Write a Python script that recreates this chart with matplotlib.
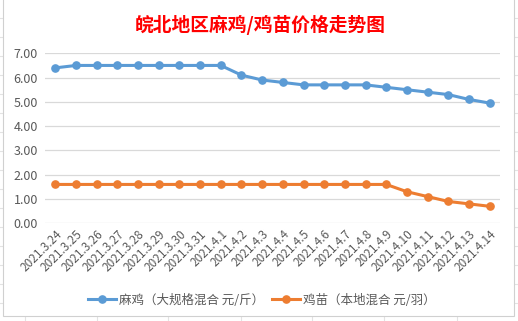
import matplotlib
matplotlib.use("Agg")
import matplotlib.pyplot as plt
from matplotlib.lines import Line2D

plt.rcParams['font.family'] = ['Noto Sans CJK SC', 'DejaVu Sans']

# 数据
dates = ['2021.3.24', '2021.3.25', '2021.3.26', '2021.3.27', '2021.3.28', '2021.3.29',
         '2021.3.30', '2021.3.31', '2021.4.1', '2021.4.2', '2021.4.3', '2021.4.4',
         '2021.4.5', '2021.4.6', '2021.4.7', '2021.4.8', '2021.4.9', '2021.4.10',
         '2021.4.11', '2021.4.12', '2021.4.13', '2021.4.14']
maji = [6.4, 6.5, 6.5, 6.5, 6.5, 6.5, 6.5, 6.5, 6.5, 6.1, 5.9, 5.8,
        5.7, 5.7, 5.7, 5.7, 5.6, 5.5, 5.4, 5.3, 5.1, 4.95]
jimiao = [1.6, 1.6, 1.6, 1.6, 1.6, 1.6, 1.6, 1.6, 1.6, 1.6, 1.6, 1.6,
          1.6, 1.6, 1.6, 1.6, 1.6, 1.3, 1.1, 0.9, 0.8, 0.7]
yticks = [0, 1, 2, 3, 4, 5, 6, 7]

name1 = '麻鸡（大规格混合 元/斤）'
name2 = '鸡苗（本地混合 元/羽）'
title = '皖北地区麻鸡/鸡苗价格走势图'

W, H = 518, 321
fig = plt.figure(figsize=(W / 100, H / 100), dpi=100)

# 表格背景的网格线（Excel 单元格），压在图表区下面
for xx in [25, 97, 168, 241, 312, 384, 457]:
    fig.add_artist(Line2D([xx / W, xx / W], [0, 1], color='#e3e3e3', lw=0.8, zorder=-3))
for yy in range(18, 321, 19):
    fig.add_artist(Line2D([0, 1], [1 - yy / H, 1 - yy / H], color='#e3e3e3', lw=0.8, zorder=-3))

# 图表区白底 + 边框
bg = plt.Rectangle((3 / W, 1 - 316 / H), (514 - 3) / W, 316 / H + 0.01,
                   transform=fig.transFigure, facecolor='white', edgecolor='#d0d0d0',
                   lw=0.8, zorder=-1)
fig.add_artist(bg)

ax = fig.add_axes([45 / W, 1 - 223.3 / H, (500 - 45) / W, (223.3 - 53.3) / H])
ax.set_facecolor('none')
x = list(range(len(dates)))
ax.plot(x, maji, color='#5b9bd5', lw=2.2, marker='o', markersize=5.2, label=name1)
ax.plot(x, jimiao, color='#ed7d31', lw=2.2, marker='o', markersize=5.2, label=name2)

ax.set_xlim(-0.5, len(dates) - 0.5)
ax.set_ylim(0, 7)
ax.set_yticks(yticks)
ax.set_yticklabels([f'{v:.2f}' for v in yticks], fontsize=9, color='#595959')
ax.set_xticks(x)
ax.set_xticklabels(dates, rotation=45, ha='right', rotation_mode='anchor',
                   fontsize=8.5, color='#595959')
ax.tick_params(axis='y', length=0, pad=5)
ax.tick_params(axis='x', length=0, pad=3)
ax.grid(axis='y', color='#d9d9d9', lw=0.9)
ax.set_axisbelow(True)
for s in ax.spines.values():
    s.set_visible(False)

fig.text(260 / W, 1 - 25 / H, title, color='red', fontsize=13.5, fontweight='bold',
         ha='center', va='center')

fig.legend(loc='center', bbox_to_anchor=(262 / W, 1 - 300 / H), ncol=2, frameon=False,
           fontsize=9, handlelength=2.2, columnspacing=0.6, handletextpad=0.3,
           labelcolor='#595959')

fig.savefig('out.png', dpi=100)
